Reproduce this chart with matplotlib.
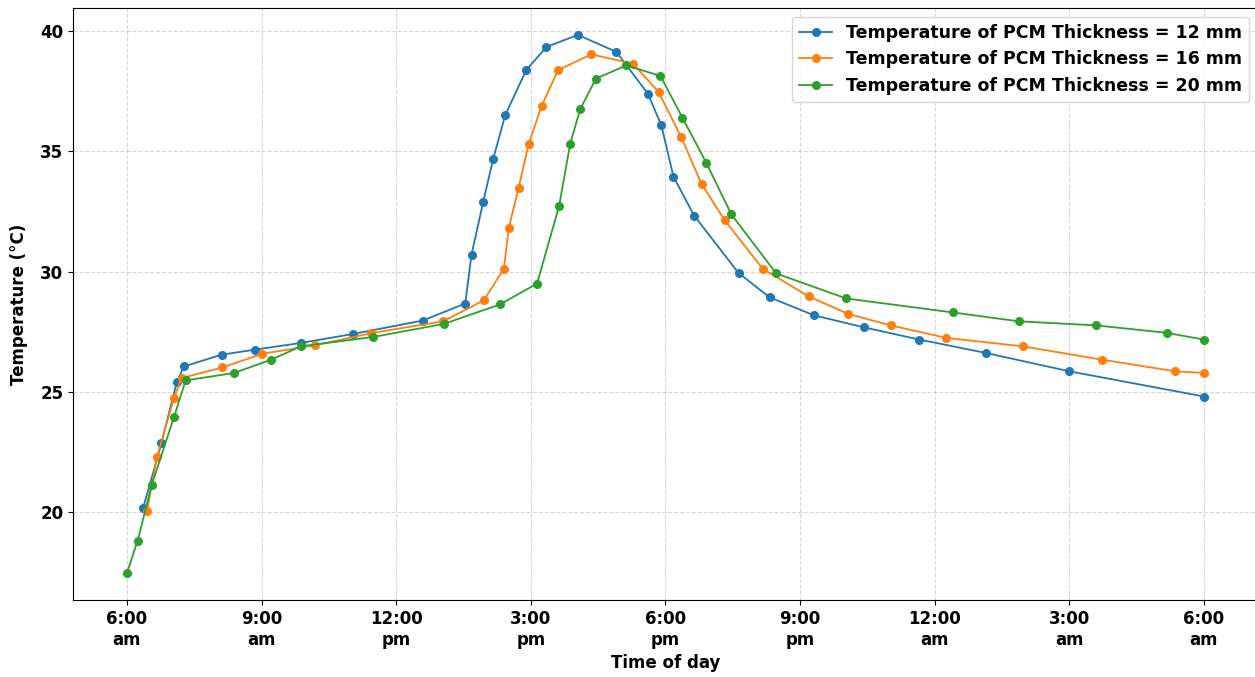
import matplotlib
matplotlib.use('Agg')
import matplotlib.pyplot as plt

# Horas desde las 6:00 am y temperatura medida para cada espesor de PCM
hours_12 = [0.36, 0.77, 1.11, 1.27, 2.11, 2.85, 3.88, 5.03, 6.59, 7.54, 7.68, 7.94, 8.16, 8.43,
            8.90, 9.35, 10.05, 10.91, 11.61, 11.91, 12.18, 12.64, 13.63, 14.32, 15.31, 16.42,
            17.66, 19.15, 21.0, 24.0]
temp_12 = [20.15, 22.86, 25.39, 26.05, 26.54, 26.75, 27.03, 27.40, 27.96, 28.67, 30.71, 32.90,
           34.67, 36.51, 38.39, 39.35, 39.85, 39.14, 37.40, 36.08, 33.95, 32.33, 29.94, 28.93,
           28.18, 27.68, 27.17, 26.61, 25.85, 24.80]

hours_16 = [0.45, 0.67, 1.05, 1.22, 2.13, 3.02, 4.19, 5.45, 7.05, 7.95, 8.40, 8.51, 8.73, 8.95,
            9.24, 9.61, 10.35, 11.28, 11.85, 12.35, 12.81, 13.32, 14.17, 15.19, 16.07, 17.02,
            18.26, 19.96, 21.74, 23.36, 24.0]
temp_16 = [20.05, 22.28, 24.74, 25.57, 26.01, 26.58, 26.93, 27.44, 27.93, 28.80, 30.11, 31.82,
           33.49, 35.29, 36.89, 38.39, 39.04, 38.65, 37.47, 35.60, 33.63, 32.14, 30.11, 28.97,
           28.24, 27.76, 27.24, 26.89, 26.33, 25.85, 25.78]

hours_20 = [0.0, 0.24, 0.55, 1.05, 1.31, 2.39, 3.21, 3.88, 5.49, 7.06, 8.31, 9.14, 9.63, 9.88,
            10.10, 10.45, 11.13, 11.89, 12.38, 12.91, 13.47, 14.47, 16.03, 18.40, 19.87, 21.60,
            23.17, 24.0]
temp_20 = [17.45, 18.80, 21.10, 23.95, 25.47, 25.78, 26.33, 26.89, 27.28, 27.82, 28.63, 29.50,
           32.72, 35.33, 36.75, 38.03, 38.58, 38.14, 36.40, 34.53, 32.38, 29.92, 28.88, 28.30,
           27.93, 27.76, 27.45, 27.17]

tick_hours = [0, 3, 6, 9, 12, 15, 18, 21, 24]
tick_labels = ['6:00\nam', '9:00\nam', '12:00\npm', '3:00\npm', '6:00\npm',
               '9:00\npm', '12:00\nam', '3:00\nam', '6:00\nam']

fig = plt.figure(figsize=(12.55, 6.77), dpi=100)
ax = fig.add_axes([0.0582, 0.1137, 0.944, 0.8745])

ax.plot(hours_12, temp_12, marker='o', markersize=5.5, lw=1.3,
        label='Temperature of PCM Thickness = 12 mm')
ax.plot(hours_16, temp_16, marker='o', markersize=5.5, lw=1.3,
        label='Temperature of PCM Thickness = 16 mm')
ax.plot(hours_20, temp_20, marker='o', markersize=5.5, lw=1.3,
        label='Temperature of PCM Thickness = 20 mm')

ax.set_xticks(tick_hours)
ax.set_xticklabels(tick_labels, fontsize=12, fontweight='bold')
ax.set_yticks([20, 25, 30, 35, 40])
ax.tick_params(axis='y', labelsize=12)
for lbl in ax.get_yticklabels():
    lbl.set_fontweight('bold')

ax.set_xlabel('Time of day', fontsize=12, fontweight='bold')
ax.set_ylabel('Temperature (°C)', fontsize=12, fontweight='bold', labelpad=9)
ax.grid(True, linestyle='--', alpha=0.5)
ax.legend(loc='upper right', prop={'weight': 'bold', 'size': 12.5}, handlelength=1.9)

plt.savefig('out.png', dpi=100)
